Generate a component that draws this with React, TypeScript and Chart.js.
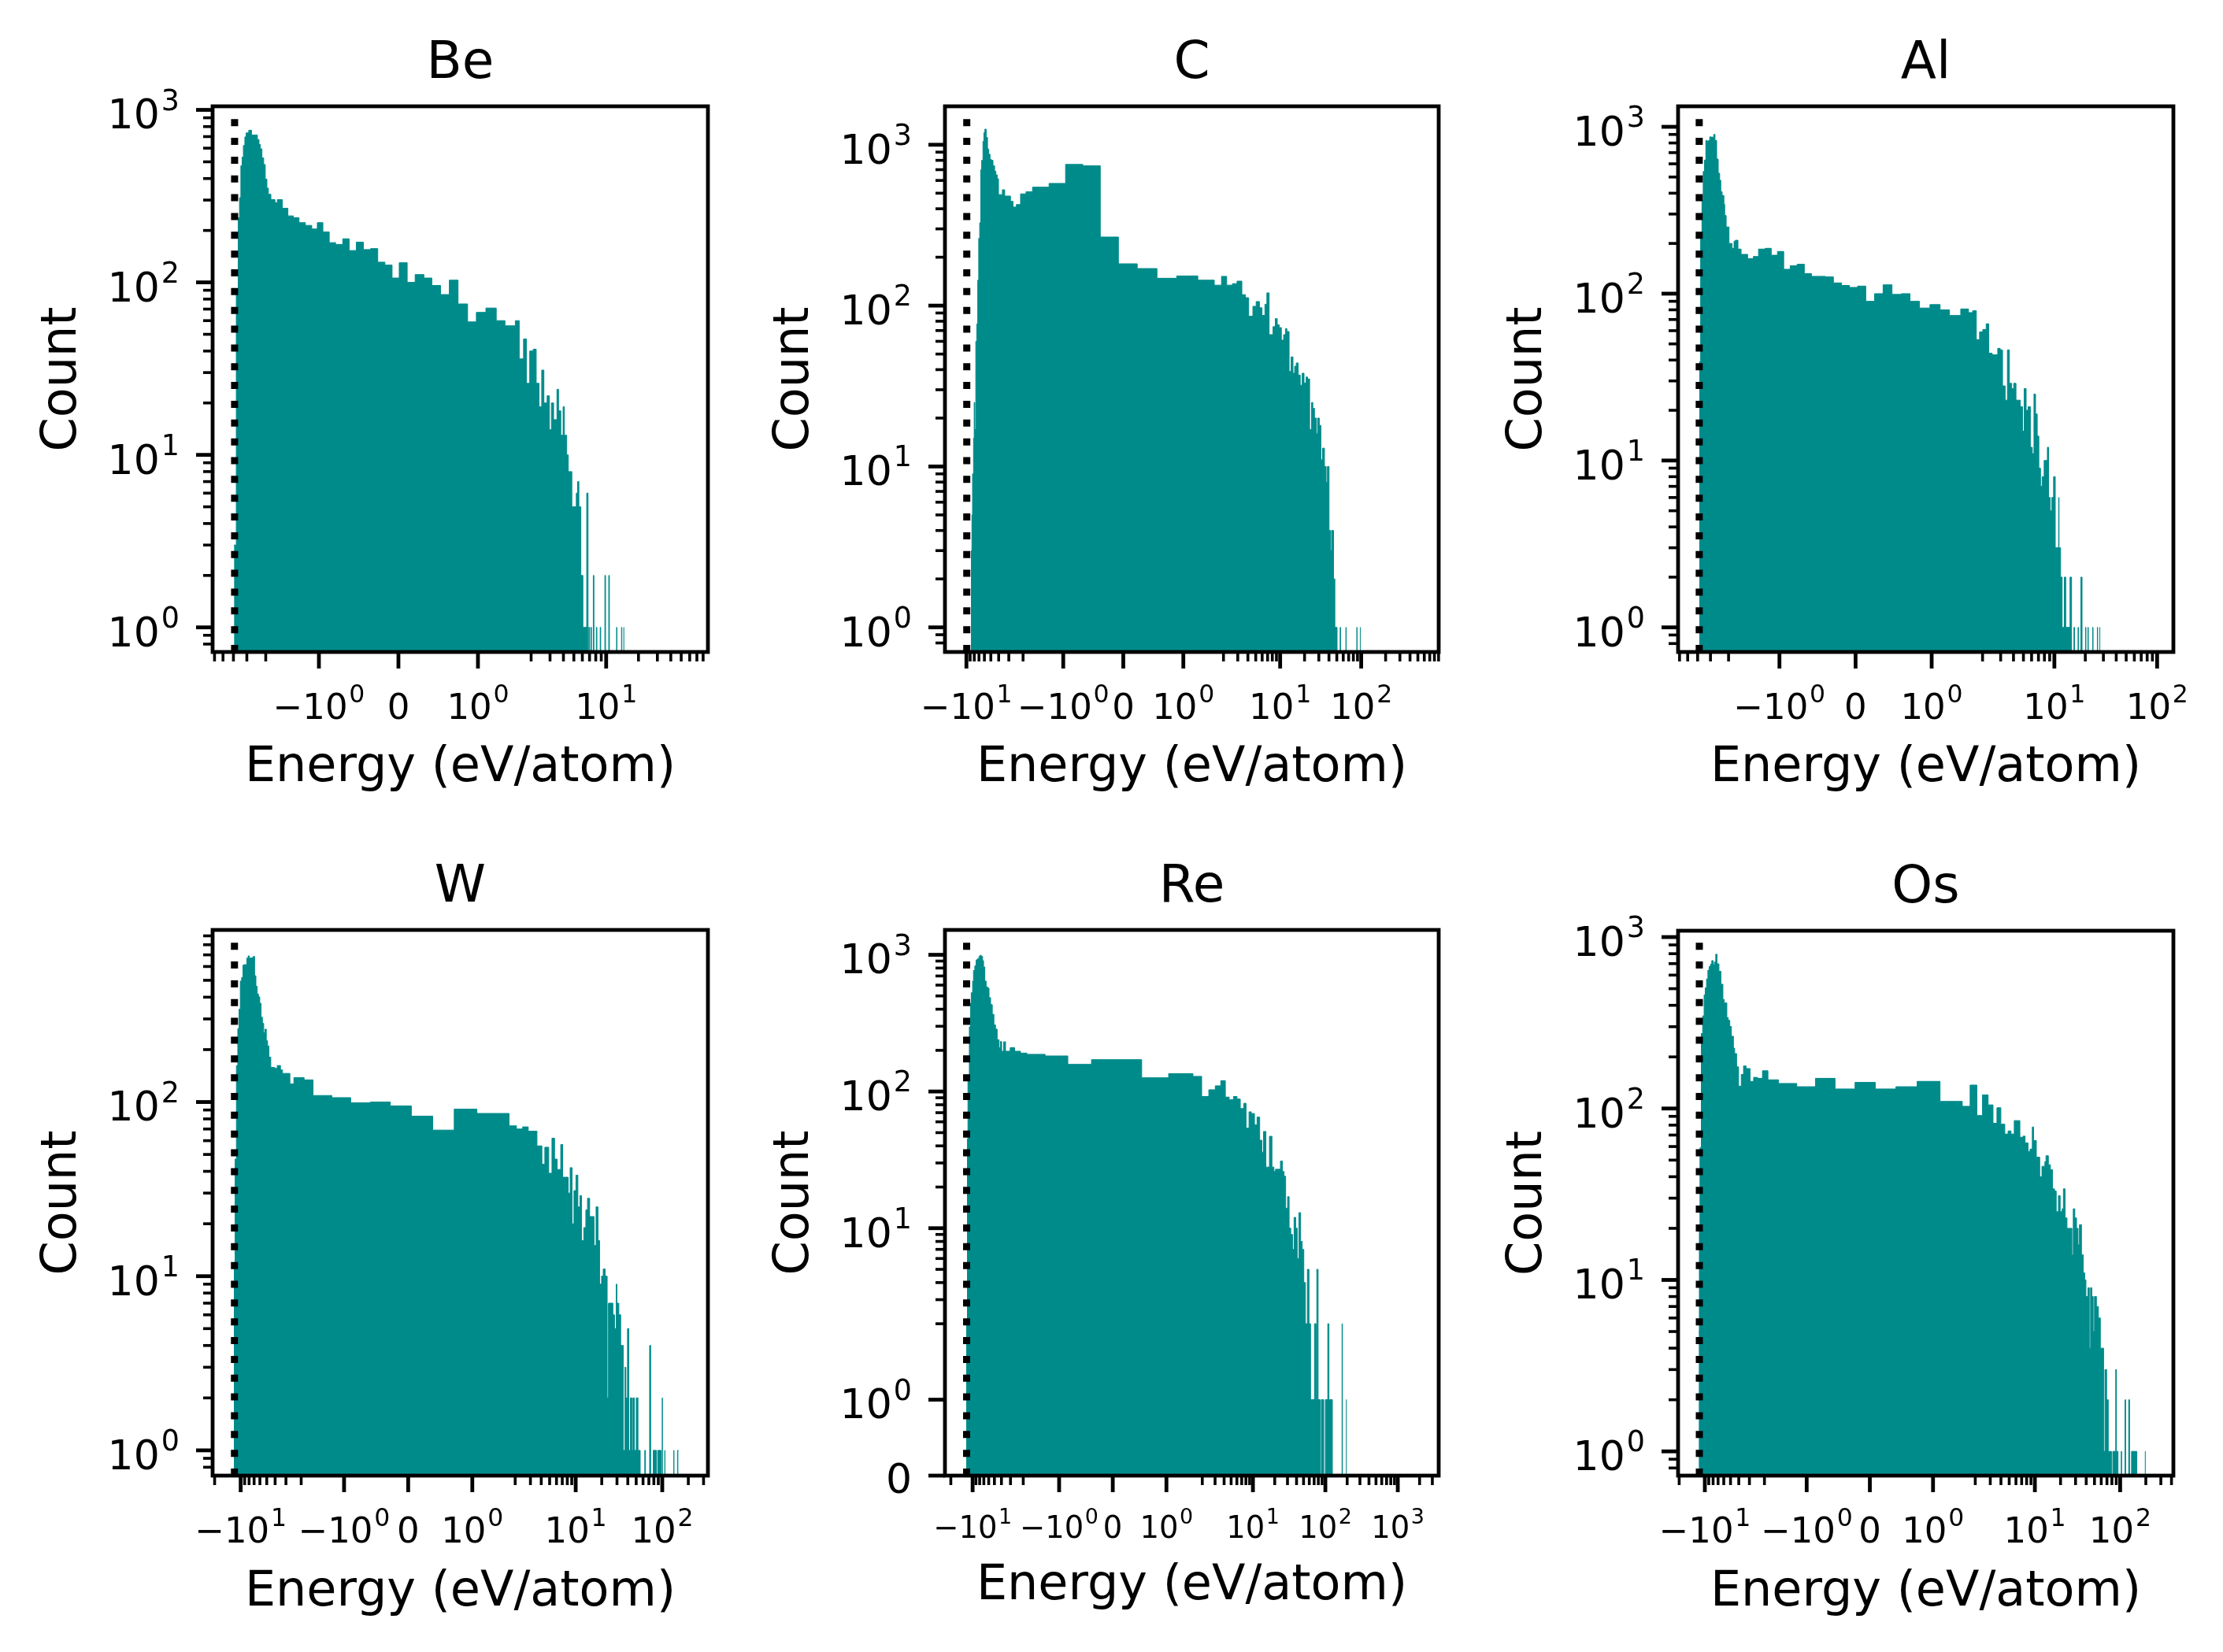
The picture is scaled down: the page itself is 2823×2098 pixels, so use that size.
import React, { useEffect, useRef } from "react";
import { Chart, registerables, LinearScale } from "chart.js";

const FONT = '"DejaVu Sans", "Liberation Sans", sans-serif';
const TEAL = "#008b8b";

// ---------------- data (energies in eV/atom, counts per bin) ----------------
const beEdges = [-3.95, -3.76, -3.61, -3.51, -3.41, -3.32, -3.23, -3.13, -3.05, -2.88, -2.71, -2.39, -2.31, -2.25, -2.17, -2.09, -2.02, -1.95, -1.89, -1.79, -1.64, -1.56, -1.46, -1.39, -1.32, -1.25, -1.17, -1.09, -1.02, -0.95, -0.87, -0.79, -0.70, -0.62, -0.53, -0.44, -0.35, -0.26, -0.17, -0.08, 0.01, 0.11, 0.21, 0.32, 0.42, 0.53, 0.64, 0.75, 0.87, 0.98, 1.10, 1.23, 1.34, 1.47, 1.55, 1.70, 1.81, 1.94, 2.09, 2.23, 2.37, 2.51, 2.63, 2.82, 2.96, 3.09, 3.24, 3.48, 3.60, 3.78, 3.97, 4.08, 4.29, 4.44, 4.79, 5.27, 5.42, 5.57, 5.81, 6.07, 6.59, 6.78, 6.90, 7.00, 7.20, 7.30, 7.59, 7.69, 8.10, 8.20, 8.80, 8.90, 9.73, 9.87, 10.57, 10.72, 12.5, 12.6, 13.9, 14.0, 14.6, 14.7];
const beCounts = [3, 92, 237, 310, 475, 532, 622, 697, 735, 762, 715, 673, 631, 595, 527, 482, 397, 352, 324, 302, 290, 302, 269, 243, 237, 222, 214, 204, 222, 196, 170, 166, 179, 153, 171, 155, 157, 131, 126, 106, 130, 100, 111, 106, 96, 85, 103, 75, 59, 67, 71, 60, 56, 60, 36, 47, 26, 40, 41, 26, 19, 31, 20, 22, 14, 20, 16, 24, 18, 13, 19, 13, 10, 8, 5, 6, 7, 5, 2, 1, 6, 0, 1, 0, 1, 0, 2, 0, 1, 0, 1, 0, 2, 0, 2, 0, 1, 0, 1, 0, 1];

const cEdges = [-8.79, -8.55, -8.40, -8.17, -8.02, -7.87, -7.66, -7.45, -7.25, -7.05, -6.86, -6.67, -6.49, -6.25, -6.09, -5.92, -5.70, -5.49, -5.30, -5.11, -4.92, -4.70, -4.49, -4.33, -4.17, -4.02, -3.60, -3.37, -2.86, -2.66, -2.42, -2.15, -1.84, -1.53, -1.236, -0.961, -0.674, -0.383, -0.081, 0.232, 0.561, 0.890, 1.241, 1.54, 1.89, 2.19, 2.58, 2.94, 3.37, 3.73, 4.09, 4.61, 5.06, 5.55, 5.97, 6.49, 6.86, 7.31, 8.17, 8.71, 9.21, 9.73, 10.35, 11.04, 11.67, 12.1, 12.9, 13.65, 14.4, 15.1, 15.8, 16.7, 17.7, 18.7, 19.7, 20.9, 21.8, 23.1, 24.4, 25.3, 26.5, 28.0, 29.0, 30.4, 31.8, 33.3, 35.2, 36.9, 38.3, 40.1, 42.0, 43.2, 45.6, 47.3, 50.4, 55.0, 55.6, 64.7, 65.3, 88.3, 88.9, 97.4, 98.0];
const cCounts = [3, 5, 9, 15, 25, 17, 60, 77, 144, 262, 327, 700, 800, 1050, 1190, 1250, 1110, 940, 873, 810, 800, 740, 685, 650, 615, 490, 525, 480, 445, 410, 425, 495, 510, 545, 575, 755, 740, 267, 182, 170, 148, 153, 144, 134, 152, 134, 137, 142, 117, 112, 86, 99, 106, 97, 87, 102, 120, 66, 74, 83, 76, 73, 61, 66, 72, 69, 39, 48, 38, 42, 44, 37, 32, 38, 33, 36, 35, 17, 25, 23, 20, 16, 20, 18, 11, 13, 10, 8, 10, 4, 3, 4, 2, 1, 0, 1, 0, 1, 0, 1, 0, 1];

const alEdges = [-3.86, -3.74, -3.63, -3.53, -3.43, -3.33, -3.23, -3.14, -3.05, -2.97, -2.79, -2.71, -2.61, -2.52, -2.44, -2.38, -2.31, -2.22, -2.18, -2.11, -1.98, -1.85, -1.77, -1.72, -1.62, -1.51, -1.418, -1.344, -1.275, -1.189, -1.108, -1.026, -0.944, -0.859, -0.768, -0.673, -0.579, -0.394, -0.291, -0.184, -0.080, 0.027, 0.134, 0.250, 0.362, 0.479, 0.603, 0.715, 0.840, 0.977, 1.111, 1.235, 1.382, 1.484, 1.60, 1.74, 1.87, 2.01, 2.17, 2.30, 2.48, 2.63, 2.81, 2.97, 3.13, 3.32, 3.49, 3.65, 3.84, 4.02, 4.23, 4.66, 4.90, 5.08, 5.31, 5.55, 5.84, 6.10, 6.33, 6.56, 6.81, 7.06, 7.33, 7.60, 7.95, 8.55, 8.79, 9.12, 9.46, 9.82, 10.2, 11.0, 11.1, 11.5, 11.9, 12.5, 12.9, 14.2, 14.7, 15.5, 15.7, 17.0, 17.2, 18.1, 18.6, 20.1, 20.3, 21.2, 21.4, 23.6, 23.8, 26.2, 26.4, 27.7, 27.9];
const alCounts = [39, 226, 362, 540, 632, 828, 818, 828, 870, 867, 900, 828, 641, 527, 478, 408, 388, 343, 294, 251, 200, 187, 206, 209, 185, 172, 162, 167, 185, 187, 170, 179, 140, 147, 150, 132, 127, 126, 116, 112, 109, 111, 90, 100, 113, 99, 100, 90, 82, 86, 80, 74, 81, 77, 79, 53, 59, 61, 66, 44, 43, 43, 47, 46, 28, 23, 46, 29, 27, 29, 23, 21, 15, 27, 20, 21, 12, 11, 25, 19, 14, 9, 7, 8, 10, 12, 6, 5, 6, 8, 3, 6, 3, 2, 1, 2, 1, 2, 0, 1, 0, 1, 0, 2, 0, 1, 0, 1, 0, 1, 0, 1, 0, 1];

const wEdges = [-12.0, -11.6, -11.2, -10.8, -10.45, -10.1, -9.75, -9.42, -9.10, -8.49, -8.20, -7.93, -7.40, -7.15, -6.90, -6.67, -6.45, -6.23, -6.02, -5.81, -5.61, -5.42, -5.24, -5.06, -4.89, -4.72, -4.49, -4.05, -3.78, -3.47, -3.29, -2.70, -2.43, -1.85, -1.484, -1.191, -0.897, -0.589, -0.279, 0.050, 0.383, 0.718, 1.072, 1.432, 1.70, 2.07, 2.44, 2.83, 3.57, 4.07, 4.40, 4.88, 5.32, 5.70, 6.11, 6.72, 7.07, 8.19, 8.63, 9.08, 9.55, 10.07, 10.6, 11.2, 11.7, 12.4, 13.1, 13.7, 14.5, 15.2, 16.3, 17.2, 18.1, 18.9, 19.9, 20.8, 21.9, 23.1, 23.9, 26.9, 28.1, 29.4, 29.9, 31.5, 33.1, 35.5, 37.1, 38.0, 39.7, 41.1, 42.9, 44.5, 45.9, 47.7, 50.1, 52.4, 55.6, 62.8, 64.0, 71.5, 73.5, 78.7, 85.7, 88.7, 96.9, 100, 100.4, 107, 107.4, 136, 136.4, 150, 154];
const wCounts = [12, 47, 162, 264, 341, 495, 519, 611, 615, 670, 690, 670, 675, 685, 531, 462, 417, 402, 369, 307, 283, 250, 262, 225, 210, 181, 158, 156, 162, 153, 146, 127, 138, 134, 109, 106, 99, 100, 95, 83, 69, 91, 86, 86, 73, 70, 72, 68, 56, 44, 55, 39, 62, 47, 41, 57, 37, 30, 42, 20, 31, 38, 25, 29, 16, 19, 24, 28, 22, 22, 15, 25, 16, 9, 10, 11, 10, 2, 7, 6, 5, 9, 7, 6, 4, 1, 3, 2, 5, 1, 2, 1, 2, 1, 2, 1, 0, 1, 0, 4, 0, 1, 0, 1, 0, 2, 0, 1, 0, 1, 0, 1];

const reEdges = [-12.3, -11.8, -11.6, -11.1, -10.7, -10.45, -10.0, -9.73, -9.33, -8.96, -8.59, -8.17, -7.91, -7.59, -7.28, -7.06, -6.78, -6.50, -6.18, -5.93, -5.64, -5.35, -5.08, -4.83, -4.58, -4.31, -4.13, -3.97, -3.73, -3.51, -3.03, -2.63, -2.18, -1.78, -1.261, -0.838, -0.397, 0.539, 1.041, 1.494, 1.96, 2.46, 3.02, 3.60, 4.16, 4.70, 5.38, 6.03, 6.69, 7.48, 8.04, 8.83, 9.49, 10.5, 11.4, 12.4, 13.3, 14.0, 15.1, 15.9, 16.9, 18.3, 19.5, 20.5, 21.6, 24.0, 25.5, 26.9, 28.3, 30.1, 31.6, 33.3, 35.2, 37.0, 38.9, 40.9, 43.2, 45.5, 47.9, 50.4, 53.1, 56.5, 59.4, 62.5, 70.8, 74.5, 76.2, 79.4, 85, 88, 95, 100, 108, 112, 125, 170, 172, 195, 197];
const reCounts = [2, 45, 119, 297, 443, 528, 642, 768, 830, 917, 934, 973, 991, 973, 906, 815, 642, 581, 570, 486, 432, 367, 307, 286, 239, 209, 232, 197, 231, 197, 209, 197, 191, 187, 182, 158, 171, 126, 135, 129, 92, 103, 110, 120, 91, 87, 92, 88, 75, 82, 54, 71, 69, 57, 65, 44, 36, 51, 28, 28, 47, 28, 26, 27, 27, 31, 26, 24, 14, 17, 10, 9, 7, 12, 10, 6, 13, 8, 7, 4, 2, 5, 2, 1, 2, 1, 5, 1, 0, 1, 0, 1, 2, 1, 0, 2, 0, 1];

const osEdges = [-11.8, -11.6, -11.4, -11.0, -10.6, -10.2, -9.89, -9.55, -9.21, -8.90, -8.59, -8.29, -8.00, -7.73, -7.45, -7.20, -6.83, -6.48, -6.14, -5.93, -5.52, -5.32, -5.10, -4.88, -4.62, -4.47, -4.24, -4.02, -3.74, -3.52, -3.28, -2.95, -2.68, -2.41, -2.11, -1.82, -1.446, -1.157, -0.861, -0.551, -0.235, 0.086, 0.412, 0.748, 1.111, 1.463, 1.74, 2.09, 2.43, 2.83, 3.23, 3.59, 3.99, 4.44, 4.85, 5.25, 5.73, 6.67, 7.28, 7.68, 8.32, 8.77, 9.33, 9.66, 10.4, 11.4, 12.1, 13.1, 13.5, 14.4, 15.2, 16.1, 17.0, 17.8, 18.9, 19.8, 20.9, 21.6, 22.6, 23.8, 27.2, 28.2, 29.4, 30.8, 32.1, 33.3, 35.2, 37.0, 38.4, 39.7, 41.9, 43.5, 45.0, 46.6, 48.3, 50.0, 52.7, 55.6, 58.6, 64.0, 66.4, 69.4, 72.5, 79.1, 82.0, 88.7, 90.4, 94.4, 103, 104, 114, 116, 126, 129, 136, 157, 197, 199];
const osCounts = [5, 21, 59, 274, 347, 460, 506, 570, 641, 673, 695, 729, 689, 716, 794, 698, 632, 531, 433, 413, 339, 327, 301, 264, 225, 209, 175, 135, 158, 177, 171, 144, 152, 150, 166, 147, 140, 134, 150, 130, 142, 130, 134, 144, 110, 103, 137, 91, 120, 105, 82, 101, 81, 71, 74, 71, 85, 68, 69, 63, 56, 58, 78, 65, 52, 40, 46, 49, 53, 47, 44, 34, 33, 25, 31, 25, 26, 34, 23, 20, 14, 26, 23, 20, 16, 21, 14, 11, 10, 8, 9, 4, 9, 8, 5, 8, 7, 6, 4, 1, 3, 2, 1, 0, 1, 3, 1, 0, 1, 0, 2, 0, 2, 0, 1, 0, 1];

// reference (ground-state) energies drawn as dotted lines
const groundStates = [-3.9, -9.9, -3.86, -11.8, -12.1, -11.6];

// axis limits
const beXRange = [-6.25, 88.7];
const cXRange = [-18.4, 903];
const alXRange = [-6.2, 144];
const wXRange = [-21.1, 337];
const reXRange = [-24.1, 3670];
const osXRange = [-20.6, 421];
const beYRange = [0.72, 1049];
const cYRange = [0.703, 1734];
const alYRange = [0.712, 1327];
const wYRange = [0.716, 973];
const reYRange = [0, 1520];
const osYRange = [0.722, 1089];

// major tick values
const beXTicks = [-1, 0, 1, 10];
const cXTicks = [-10, -1, 0, 1, 10, 100];
const alXTicks = [-1, 0, 1, 10, 100];
const wXTicks = [-10, -1, 0, 1, 10, 100];
const reXTicks = [-10, -1, 0, 1, 10, 100, 1000];
const osXTicks = [-10, -1, 0, 1, 10, 100];
const beYTicks = [1, 10, 100, 1000];
const cYTicks = [1, 10, 100, 1000];
const alYTicks = [1, 10, 100, 1000];
const wYTicks = [1, 10, 100];
const reYTicks = [0, 1, 10, 100, 1000];
const osYTicks = [1, 10, 100, 1000];

const X_LINTHRESH = 1.5;
const Y_LINTHRESH = 2;

// ---------------- symlog scale ----------------
function symT(v: number, lt: number): number {
  const a = 1 / (1 - 1 / 10);
  const av = Math.abs(v);
  if (av <= lt) return v * a;
  return Math.sign(v) * lt * (a + Math.log10(av / lt));
}
function symInv(t: number, lt: number): number {
  const a = 1 / (1 - 1 / 10);
  const at = Math.abs(t);
  if (at <= lt * a) return t / a;
  return Math.sign(t) * lt * Math.pow(10, at / lt - a);
}

class SymlogScale extends LinearScale {
  static id = "symlog";
  static defaults = { ...(LinearScale as any).defaults };
  _lt(): number {
    const o: any = this.options;
    return o && typeof o.linthresh === "number" ? o.linthresh : 2;
  }
  getPixelForValue(value: number): number {
    if (value === null || value === undefined || Number.isNaN(value)) return NaN;
    const lt = this._lt();
    const t0 = symT(this.min, lt);
    const t1 = symT(this.max, lt);
    return this.getPixelForDecimal((symT(value, lt) - t0) / (t1 - t0));
  }
  getValueForPixel(pixel: number): number {
    const lt = this._lt();
    const t0 = symT(this.min, lt);
    const t1 = symT(this.max, lt);
    return symInv(t0 + this.getDecimalForPixel(pixel) * (t1 - t0), lt);
  }
}

Chart.register(...registerables, SymlogScale as any);

// ---------------- panels ----------------
type PanelCfg = {
  title: string;
  edges: number[];
  counts: number[];
  ground: number;
  xTicks: number[];
  yTicks: number[];
  xRange: number[];
  yRange: number[];
  ySym: boolean;
  frame: { L: number; T: number; R: number; B: number };
  xTickFont: number;
  xLabelDy: number;
};

const PANELS: PanelCfg[] = [
  { title: "Be", edges: beEdges, counts: beCounts, ground: groundStates[0], xTicks: beXTicks, yTicks: beYTicks, xRange: beXRange, yRange: beYRange, ySym: false, frame: { L: 270, T: 135, R: 899, B: 828 }, xTickFont: 45, xLabelDy: 164 },
  { title: "C", edges: cEdges, counts: cCounts, ground: groundStates[1], xTicks: cXTicks, yTicks: cYTicks, xRange: cXRange, yRange: cYRange, ySym: false, frame: { L: 1200, T: 135, R: 1827, B: 828 }, xTickFont: 45, xLabelDy: 164 },
  { title: "Al", edges: alEdges, counts: alCounts, ground: groundStates[2], xTicks: alXTicks, yTicks: alYTicks, xRange: alXRange, yRange: alYRange, ySym: false, frame: { L: 2131, T: 135, R: 2760, B: 828 }, xTickFont: 45, xLabelDy: 164 },
  { title: "W", edges: wEdges, counts: wCounts, ground: groundStates[3], xTicks: wXTicks, yTicks: wYTicks, xRange: wXRange, yRange: wYRange, ySym: false, frame: { L: 270, T: 1181, R: 899, B: 1874 }, xTickFont: 45, xLabelDy: 165 },
  { title: "Re", edges: reEdges, counts: reCounts, ground: groundStates[4], xTicks: reXTicks, yTicks: reYTicks, xRange: reXRange, yRange: reYRange, ySym: true, frame: { L: 1200, T: 1181, R: 1827, B: 1874 }, xTickFont: 38.5, xLabelDy: 157 },
  { title: "Os", edges: osEdges, counts: osCounts, ground: groundStates[5], xTicks: osXTicks, yTicks: osYTicks, xRange: osXRange, yRange: osYRange, ySym: false, frame: { L: 2131, T: 1182, R: 2760, B: 1874 }, xTickFont: 45, xLabelDy: 165 },
];

function histPoints(edges: number[], counts: number[], floor: number) {
  const n = Math.min(counts.length, edges.length - 1);
  const pts: { x: number; y: number }[] = [];
  for (let i = 0; i < n; i++) pts.push({ x: edges[i], y: counts[i] > 0 ? counts[i] : floor });
  pts.push({ x: edges[n], y: counts[n - 1] > 0 ? counts[n - 1] : floor });
  return pts;
}

function xMinorTicks(min: number, max: number, lt: number) {
  const out: number[] = [];
  for (let k = 0; k <= 4; k++) {
    for (let s = 2; s <= 9; s++) {
      const v = s * Math.pow(10, k);
      if (v < lt) continue;
      if (v <= max) out.push(v);
      if (-v >= min) out.push(-v);
    }
  }
  return out;
}

function yMinorTicks(min: number, max: number, sym: boolean) {
  const out: number[] = [];
  for (let k = -1; k <= 4; k++) {
    for (let s = 2; s <= 9; s++) {
      const v = s * Math.pow(10, k);
      if (sym && v < Y_LINTHRESH) continue;
      if (v >= min && v <= max) out.push(v);
    }
  }
  return out;
}

function tickParts(v: number) {
  if (v === 0) return { base: "0", exp: "" };
  const e = Math.round(Math.log10(Math.abs(v)));
  return { base: (v < 0 ? "\u2212" : "") + "10", exp: String(e) };
}

function drawTickLabel(ctx: CanvasRenderingContext2D, v: number, x: number, yBase: number, fs: number, align: "center" | "right") {
  const { base, exp } = tickParts(v);
  ctx.font = `${fs}px ${FONT}`;
  const wb = ctx.measureText(base).width;
  const efs = fs * 0.7;
  let we = 0;
  const gap = exp ? fs * 0.04 : 0;
  if (exp) {
    ctx.font = `${efs}px ${FONT}`;
    we = ctx.measureText(exp).width;
  }
  const total = wb + gap + we;
  const x0 = align === "center" ? x - total / 2 : x - total;
  ctx.textAlign = "left";
  ctx.textBaseline = "alphabetic";
  ctx.font = `${fs}px ${FONT}`;
  ctx.fillText(base, x0, yBase);
  if (exp) {
    ctx.font = `${efs}px ${FONT}`;
    ctx.fillText(exp, x0 + wb + gap, yBase - fs * 0.46);
  }
}

function makeAxesPlugin(cfg: PanelCfg) {
  return {
    id: "mplAxes",
    afterDraw(chart: any) {
      const ctx: CanvasRenderingContext2D = chart.ctx;
      const { left: L, right: R, top: T, bottom: B } = chart.chartArea;
      const xs = chart.scales.x;
      const ys = chart.scales.y;
      ctx.save();

      // dotted reference line
      const gx = xs.getPixelForValue(cfg.ground);
      ctx.save();
      ctx.beginPath();
      ctx.rect(L, T, R - L, B - T);
      ctx.clip();
      ctx.strokeStyle = "#000";
      ctx.lineWidth = 9;
      ctx.lineCap = "butt";
      ctx.setLineDash([9, 14.85]);
      ctx.beginPath();
      ctx.moveTo(gx, B);
      ctx.lineTo(gx, T);
      ctx.stroke();
      ctx.restore();

      ctx.strokeStyle = "#000";
      ctx.fillStyle = "#000";
      ctx.setLineDash([]);

      // x ticks
      const xMinor = xMinorTicks(cfg.xRange[0], cfg.xRange[1], X_LINTHRESH);
      ctx.lineWidth = 3.6;
      for (const v of xMinor) {
        const px = xs.getPixelForValue(v);
        ctx.beginPath();
        ctx.moveTo(px, B);
        ctx.lineTo(px, B + 12);
        ctx.stroke();
      }
      ctx.lineWidth = 4.8;
      for (const v of cfg.xTicks) {
        const px = xs.getPixelForValue(v);
        ctx.beginPath();
        ctx.moveTo(px, B);
        ctx.lineTo(px, B + 21);
        ctx.stroke();
      }
      const xfs = cfg.xTickFont;
      for (const v of cfg.xTicks) {
        const px = xs.getPixelForValue(v);
        drawTickLabel(ctx, v, px, B + 42 + 0.95 * xfs, xfs, "center");
      }

      // y ticks
      const yMinor = yMinorTicks(cfg.yRange[0], cfg.yRange[1], cfg.ySym);
      ctx.lineWidth = 3.6;
      for (const v of yMinor) {
        const py = ys.getPixelForValue(v);
        ctx.beginPath();
        ctx.moveTo(L, py);
        ctx.lineTo(L - 12, py);
        ctx.stroke();
      }
      ctx.lineWidth = 4.8;
      for (const v of cfg.yTicks) {
        const py = v === 0 ? B : ys.getPixelForValue(v);
        ctx.beginPath();
        ctx.moveTo(L, py);
        ctx.lineTo(L - 21, py);
        ctx.stroke();
      }
      const yfs = 52;
      for (const v of cfg.yTicks) {
        const py = v === 0 ? B : ys.getPixelForValue(v);
        drawTickLabel(ctx, v, L - 42, py + (v === 0 ? 0.42 : 0.46) * yfs, yfs, "right");
      }

      // frame
      ctx.lineWidth = 4.8;
      ctx.strokeRect(L, T, R - L, B - T);

      // title and axis labels
      ctx.textAlign = "center";
      ctx.textBaseline = "alphabetic";
      ctx.font = `66px ${FONT}`;
      ctx.fillText(cfg.title, (L + R) / 2, T - 36);
      ctx.font = `62px ${FONT}`;
      ctx.fillText("Energy (eV/atom)", (L + R) / 2, B + cfg.xLabelDy);
      ctx.save();
      ctx.translate(L - 174, (T + B) / 2);
      ctx.rotate(-Math.PI / 2);
      ctx.fillText("Count", 0, 0);
      ctx.restore();

      ctx.restore();
    },
  };
}

function PanelChart({ cfg }: { cfg: PanelCfg }) {
  const ref = useRef<HTMLCanvasElement | null>(null);
  const { L, T, R, B } = cfg.frame;
  const padL = 280, padT = 140, padR = 60, padB = 230;
  const w = R - L + padL + padR;
  const h = B - T + padT + padB;

  useEffect(() => {
    const canvas = ref.current;
    if (!canvas) return;
    const pts = histPoints(cfg.edges, cfg.counts, cfg.ySym ? 0 : 1e-3);
    const yScale: any = cfg.ySym
      ? { type: "symlog", linthresh: Y_LINTHRESH, min: cfg.yRange[0], max: cfg.yRange[1], display: false, bounds: "data" }
      : { type: "logarithmic", min: cfg.yRange[0], max: cfg.yRange[1], display: false, bounds: "data" };
    const chart = new Chart(canvas, {
      type: "line",
      data: {
        datasets: [
          {
            data: pts,
            stepped: true,
            fill: "start",
            backgroundColor: TEAL,
            borderColor: TEAL,
            borderWidth: 1,
            pointRadius: 0,
            pointHoverRadius: 0,
            tension: 0,
          } as any,
        ],
      },
      options: {
        animation: false,
        responsive: false,
        devicePixelRatio: 1,
        events: [],
        layout: { padding: { left: padL, top: padT, right: padR, bottom: padB } },
        plugins: { legend: { display: false }, tooltip: { enabled: false }, title: { display: false } },
        scales: {
          x: { type: "symlog", linthresh: X_LINTHRESH, min: cfg.xRange[0], max: cfg.xRange[1], display: false, bounds: "data" } as any,
          y: yScale,
        },
      } as any,
      plugins: [makeAxesPlugin(cfg) as any],
    });
    return () => chart.destroy();
  }, [cfg]);

  return (
    <canvas
      ref={ref}
      width={w}
      height={h}
      style={{ position: "absolute", left: L - padL, top: T - padT, width: w, height: h }}
    />
  );
}

export default function App() {
  return (
    <div
      style={{
        position: "absolute",
        left: 0,
        top: 0,
        width: 2823,
        height: 2098,
        overflow: "hidden",
        background: "#ffffff",
      }}
    >
      {PANELS.map((p) => (
        <PanelChart key={p.title} cfg={p} />
      ))}
    </div>
  );
}
